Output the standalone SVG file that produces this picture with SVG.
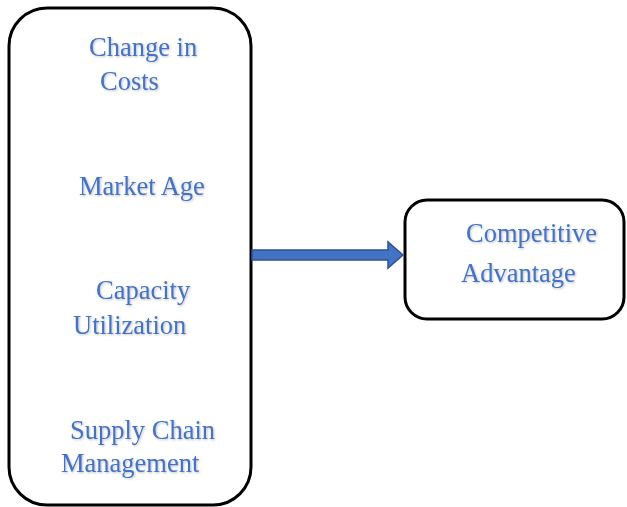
<svg xmlns="http://www.w3.org/2000/svg" width="627" height="507" viewBox="0 0 627 507">
  <style>
    .box { fill: #ffffff; stroke: #000000; stroke-width: 3; }
    .lbl { font-family: "Liberation Serif", "Times New Roman", serif; font-size: 26.5px; fill: #4472C4; }
    .arrow { fill: #4472C4; stroke: #2F528F; stroke-width: 1.5; }
  </style>
  <defs>
    <filter id="soft" x="-5%" y="-20%" width="110%" height="140%">
      <feDropShadow dx="1" dy="1" stdDeviation="0.8" flood-color="#000000" flood-opacity="0.25"/>
    </filter>
  </defs>
  <rect width="627" height="507" fill="#ffffff"/>

  <g id="factors">
    <rect class="box" x="9" y="8" width="242" height="497" rx="38" ry="38"/>
    <g class="lbl" filter="url(#soft)">
      <text x="89" y="56">Change in</text>
      <text x="100" y="90">Costs</text>
      <text x="79" y="195">Market Age</text>
      <text x="96" y="299">Capacity</text>
      <text x="73" y="334">Utilization</text>
      <text x="70" y="439">Supply Chain</text>
      <text x="61" y="472">Management</text>
    </g>
  </g>

  <g id="outcome">
    <rect class="box" x="405" y="200" width="219" height="119" rx="22" ry="22"/>
    <g class="lbl" filter="url(#soft)">
      <text x="466" y="242">Competitive</text>
      <text x="461" y="282">Advantage</text>
    </g>
  </g>

  <g id="connectors">
    <path class="arrow" d="M252,250 L388,250 L388,242 L403,255 L388,268 L388,260 L252,260 Z"/>
  </g>
</svg>
